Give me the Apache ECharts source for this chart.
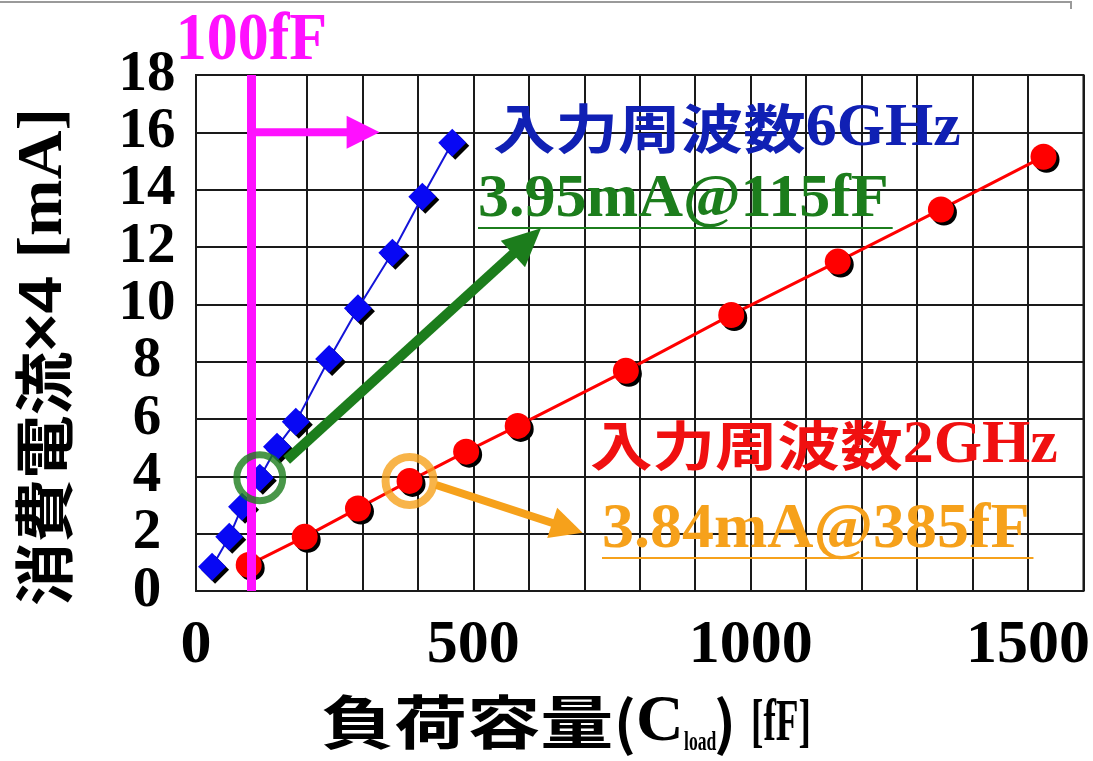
<!DOCTYPE html>
<html>
<head>
<meta charset="utf-8">
<script src="https://cdn.jsdelivr.net/npm/echarts@6/dist/echarts.min.js"></script>
<style>
  html, body { margin: 0; padding: 0; background: #fff; }
  #chart { width: 1093px; height: 761px; }
</style>
</head>
<body>
<div id="chart"></div>
<script>
// Load capacitance [fF] vs. supply current x4 [mA], 6 GHz input
const capBlue = [29, 60, 83, 115, 146, 180, 240, 292, 354, 408, 462];
const curBlue = [0.85, 1.89, 2.94, 3.95, 5.03, 5.90, 8.09, 9.86, 11.80, 13.75, 15.64];

// Load capacitance [fF] vs. supply current x4 [mA], 2 GHz input
const capRed = [95, 196, 292, 385, 487, 580, 775, 965, 1157, 1343, 1528];
const curRed = [0.91, 1.89, 2.88, 3.84, 4.86, 5.76, 7.68, 9.63, 11.49, 13.31, 15.15];

// Tick labels
const xTickLabels = [0, 500, 1000, 1500];
const yTickLabels = [0, 2, 4, 6, 8, 10, 12, 14, 16, 18];

// Annotations (data coordinates)
const refCap = 100;                              // reference load line
const refArrow = [[100, 16], [331, 16]];
const pickBlue = [115, 3.95];                    // highlighted 6 GHz point
const pickRed = [385, 3.84];                     // highlighted 2 GHz point
const arrowBlue = [[163.5, 4.57], [622, 12.65]];
const arrowRed = [[433, 3.70], [697, 2.03]];

const SERIF = '"Liberation Serif", "Times New Roman", serif';
const CJK = '"Noto Sans CJK JP", "Noto Sans CJK SC", sans-serif';
const SANS = '"Liberation Sans", Arial, sans-serif';

const C_BLUE_TXT = '#1020b4';
const C_RED = '#f01010';
const C_GREEN = '#1c7d1c';
const C_ORANGE = '#f6a11b';
const C_MAGENTA = '#ff10ff';

const zip = (a, b) => a.map((v, i) => [v, b[i]]);

const chart = echarts.init(document.getElementById('chart'), null, { renderer: 'canvas' });

chart.setOption({
  animation: false,
  backgroundColor: '#ffffff',
  grid: {
    left: 196, right: 7, top: 75, bottom: 170,
    show: true, borderColor: '#1a1a1a', borderWidth: 2
  },
  xAxis: {
    type: 'value', min: 0, max: 1600, interval: 100,
    axisLine: { show: false }, axisTick: { show: false },
    splitLine: { show: true, lineStyle: { color: '#1a1a1a', width: 2 } },
    axisLabel: {
      formatter: v => (xTickLabels.includes(v) ? String(v) : ''),
      color: '#000', fontFamily: SERIF, fontWeight: 'bold', fontSize: 62, margin: 24
    }
  },
  yAxis: {
    type: 'value', min: 0, max: 18, interval: 2,
    axisLine: { show: false }, axisTick: { show: false },
    splitLine: { show: true, lineStyle: { color: '#1a1a1a', width: 2 } },
    axisLabel: {
      formatter: v => (yTickLabels.includes(v) ? String(v) : ''),
      color: '#000', fontFamily: SERIF, fontWeight: 'bold', fontSize: 57,
      align: 'center', margin: 49, padding: [0, 0, 14, 0]
    }
  },
  series: [
    {
      name: '6GHz', type: 'line', z: 3,
      data: zip(capBlue, curBlue),
      symbol: 'diamond', symbolSize: 28,
      lineStyle: { color: '#1414d8', width: 2 },
      itemStyle: { color: '#0808f4', shadowColor: '#000', shadowBlur: 0, shadowOffsetX: 3, shadowOffsetY: 3 }
    },
    {
      name: '2GHz', type: 'line', z: 3,
      data: zip(capRed, curRed),
      symbol: 'circle', symbolSize: 26,
      lineStyle: { color: '#ff0000', width: 3 },
      itemStyle: { color: '#ff0000', shadowColor: '#000', shadowBlur: 0, shadowOffsetX: 3, shadowOffsetY: 3 }
    },
    {
      name: 'ref', type: 'line', z: 6, data: [],
      markLine: {
        silent: true, symbol: ['none', 'none'],
        lineStyle: { color: C_MAGENTA, width: 9, type: 'solid' },
        label: { show: false },
        data: [{ xAxis: refCap }]
      }
    },
    {
      name: 'ringBlue', type: 'scatter', z: 10,
      data: [pickBlue], symbol: 'circle', symbolSize: 46,
      itemStyle: { color: 'rgba(0,0,0,0)', borderColor: C_GREEN, borderWidth: 7 }
    },
    {
      name: 'ringRed', type: 'scatter', z: 10,
      data: [pickRed], symbol: 'circle', symbolSize: 48,
      itemStyle: { color: 'rgba(0,0,0,0)', borderColor: C_ORANGE, borderWidth: 8 }
    }
  ]
});

const px = p => chart.convertToPixel({ gridIndex: 0 }, p);

const mctx = document.createElement('canvas').getContext('2d');
function textWidth(str, font) { mctx.font = font; return mctx.measureText(str).width; }

// Arrow: straight shaft plus triangular head, pixel geometry from data points
function arrow(from, to, width, headLen, headW, color) {
  const p0 = px(from), p1 = px(to);
  const dx = p1[0] - p0[0], dy = p1[1] - p0[1];
  const L = Math.hypot(dx, dy), ux = dx / L, uy = dy / L, nx = -uy, ny = ux;
  const bx = p1[0] - ux * headLen, by = p1[1] - uy * headLen;
  return [
    { type: 'line', z: 100, silent: true,
      shape: { x1: p0[0], y1: p0[1], x2: bx + ux * 2, y2: by + uy * 2 },
      style: { stroke: color, lineWidth: width } },
    { type: 'polygon', z: 100, silent: true,
      shape: { points: [[p1[0], p1[1]], [bx + nx * headW / 2, by + ny * headW / 2], [bx - nx * headW / 2, by - ny * headW / 2]] },
      style: { fill: color } }
  ];
}

function txt(x, y, text, opts) {
  return {
    type: 'text', z: 110, silent: true, x, y,
    scaleX: opts.scaleX || 1, scaleY: opts.scaleY || 1, rotation: opts.rotation || 0,
    style: {
      text, fill: opts.fill || '#000', fontSize: opts.size, fontFamily: opts.family,
      fontWeight: 'bold', align: opts.align || 'left', verticalAlign: 'middle', rich: opts.rich
    }
  };
}

function underlinedLabel(x, y, text, size, color) {
  const w = textWidth(text, 'bold ' + size + 'px ' + SERIF);
  return [
    txt(x, y, text, { size, family: SERIF, fill: color }),
    { type: 'line', z: 110, silent: true,
      shape: { x1: x, y1: y + 28, x2: x + w + 4, y2: y + 28 },
      style: { stroke: color, lineWidth: 2 } }
  ];
}

const refX = px([refCap, 0])[0];
const cjkScale = 1.18;
const cjkSize = 53;
const cjkW = textWidth('入力周波数', 'bold ' + cjkSize + 'px ' + CJK) * cjkScale;

const els = [];
// frame line along the top edge
els.push({ type: 'polyline', z: 1, silent: true,
  shape: { points: [[0, 2], [1071, 2], [1071, 9]] },
  style: { stroke: '#9a9a9a', lineWidth: 2, fill: null } });

// reference-line caption and arrow
els.push(txt(refX, 42, refCap + 'fF', { size: 62, family: SERIF, fill: C_MAGENTA, align: 'center', scaleY: 1.08 }));
els.push(...arrow(refArrow[0], refArrow[1], 8, 33, 33, C_MAGENTA));

// highlight arrows
els.push(...arrow(arrowBlue[0], arrowBlue[1], 10, 38, 36, C_GREEN));
els.push(...arrow(arrowRed[0], arrowRed[1], 8, 32, 32, C_ORANGE));

// series captions
els.push(txt(493, 129, '入力周波数', { size: cjkSize, family: CJK, fill: C_BLUE_TXT, scaleX: cjkScale }));
els.push(txt(493 + cjkW, 129, '6GHz', { size: 62, family: SERIF, fill: C_BLUE_TXT }));
els.push(txt(590, 446, '入力周波数', { size: cjkSize, family: CJK, fill: C_RED, scaleX: cjkScale }));
els.push(txt(590 + cjkW, 446, '2GHz', { size: 62, family: SERIF, fill: C_RED }));

// highlighted values
els.push(...underlinedLabel(478, 200, pickBlue[1].toFixed(2) + 'mA@' + pickBlue[0] + 'fF', 62, C_GREEN));
els.push(...underlinedLabel(602, 530, pickRed[1].toFixed(2) + 'mA@' + pickRed[0] + 'fF', 64, C_ORANGE));

// x-axis title
els.push(txt(321, 722, '負荷容量', { size: 58, family: CJK, scaleX: 1.26 }));
els.push(txt(614, 722, '(', { size: 58, family: CJK }));
els.push(txt(636, 723, 'C', { size: 66, family: SERIF }));
els.push(txt(684, 743, 'load', { size: 28, family: SERIF, scaleX: 0.63 }));
els.push(txt(714, 722, ')', { size: 58, family: CJK }));
els.push(txt(751, 724, '[fF]', { size: 60, family: SERIF, scaleX: 0.62 }));

// y-axis title (reads bottom to top)
const yRich = {
  c: { fontFamily: CJK, fontWeight: 'bold', fontSize: 60, fill: '#000' },
  s: { fontFamily: SANS, fontWeight: 'bold', fontSize: 62, fill: '#000' },
  l: { fontFamily: SERIF, fontWeight: 'bold', fontSize: 64, fill: '#000' }
};
const yNat = textWidth('消費電流', 'bold 60px ' + CJK) + textWidth('×4 ', 'bold 62px ' + SANS) + textWidth('[mA]', 'bold 64px ' + SERIF);
els.push(txt(44, 357, '{c|消費電流}{s|×4 }{l|[mA]}', {
  size: 60, family: CJK, align: 'center', rotation: Math.PI / 2, scaleX: 498 / yNat, rich: yRich
}));

chart.setOption({ graphic: { elements: els } });
</script>
</body>
</html>
